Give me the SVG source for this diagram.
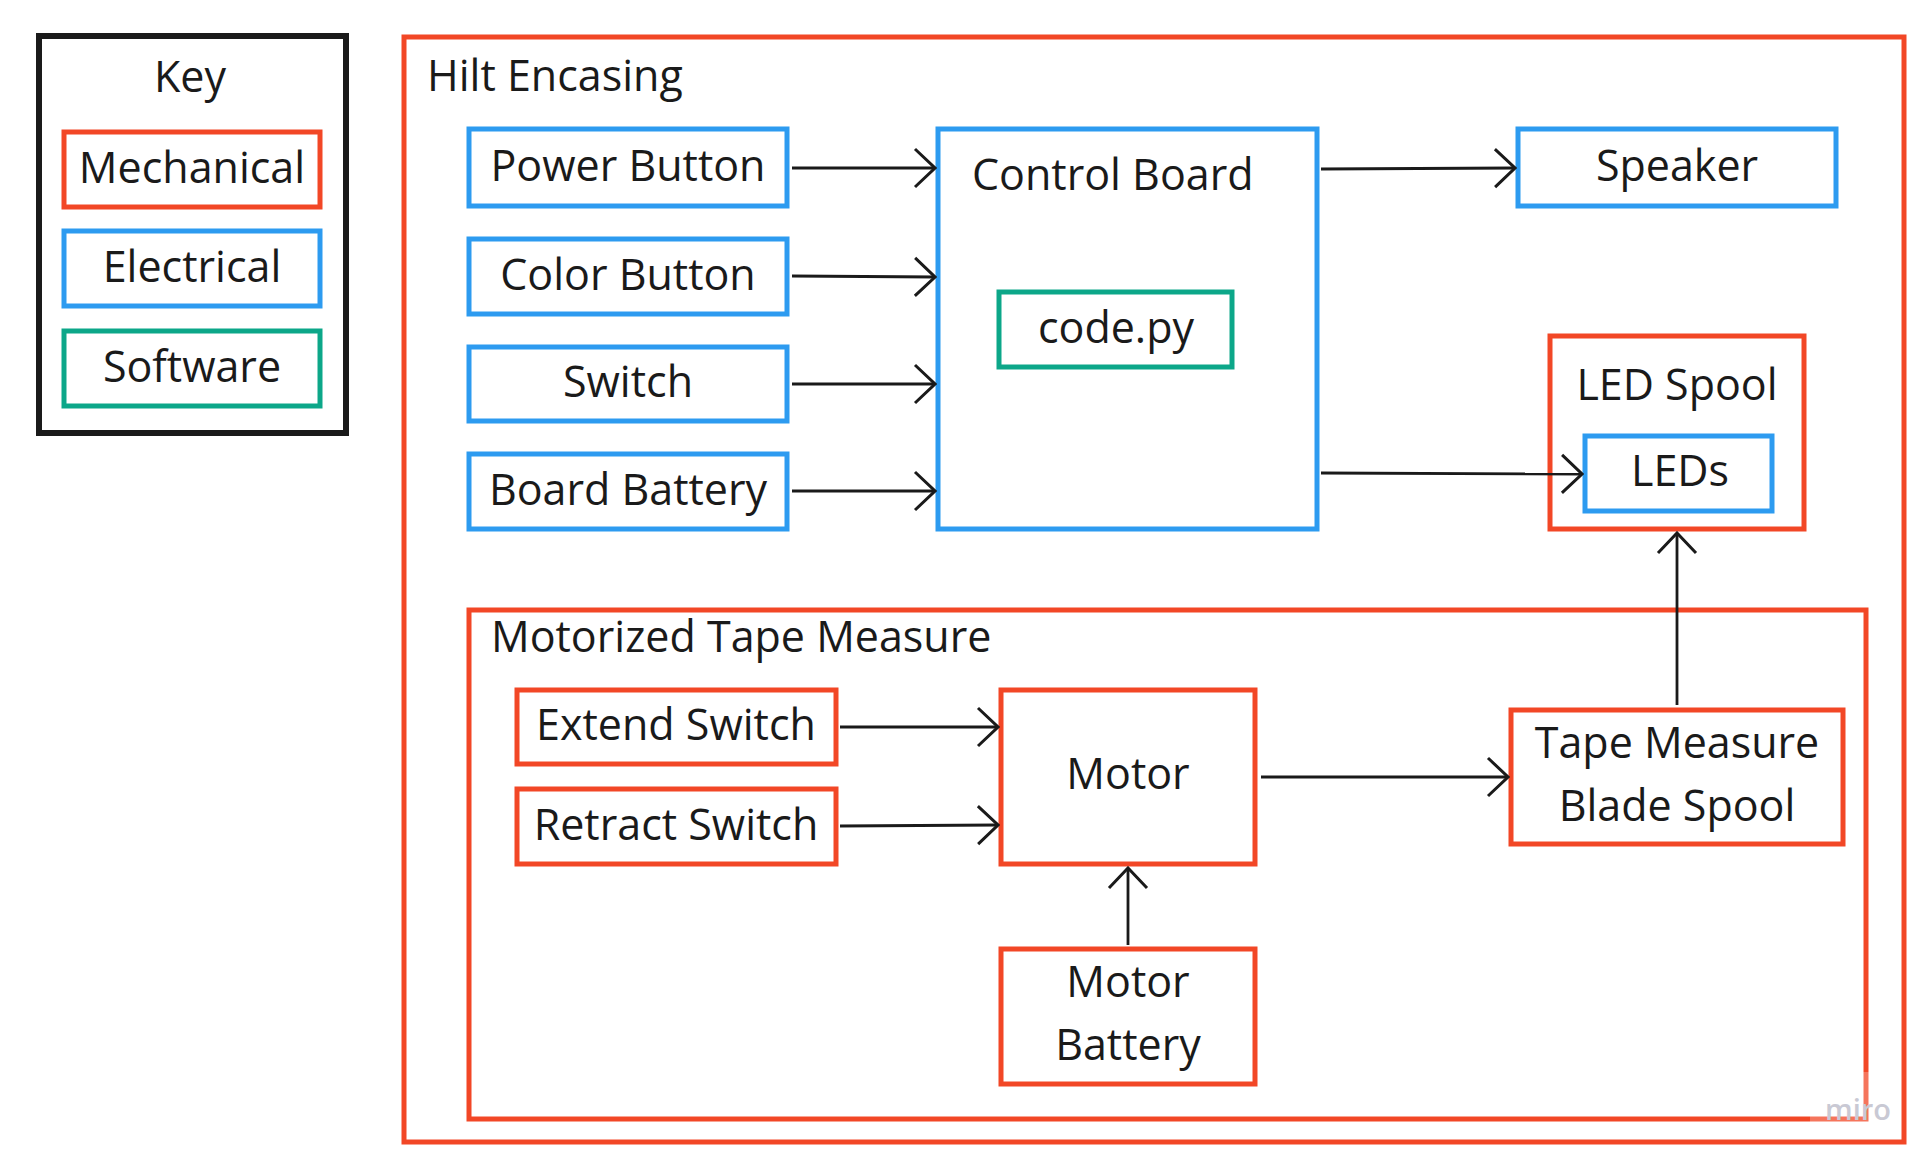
<svg xmlns="http://www.w3.org/2000/svg" width="1930" height="1165" viewBox="0 0 1930 1165">
<style>
.t{font-family:"Open Sans","Noto Sans","Liberation Sans",sans-serif;font-size:43px;fill:#1a1a1a}
.c{text-anchor:middle}
.m{fill:none;stroke:#f24726;stroke-width:5}
.e{fill:none;stroke:#2d9bf0;stroke-width:5}
.s{fill:none;stroke:#0ca789;stroke-width:5}
.k{fill:none;stroke:#1a1a1a;stroke-width:6}
.ln{stroke:#1a1a1a;stroke-width:2.8;fill:none;marker-end:url(#arr)}
</style>
<defs>
<marker id="arr" viewBox="-24 -22 26 44" markerWidth="26" markerHeight="44" refX="0" refY="0" orient="auto" markerUnits="userSpaceOnUse">
<path d="M-20,-19 L0,0 L-20,19" fill="none" stroke="#1a1a1a" stroke-width="3"/>
</marker>
</defs>
<rect width="1930" height="1165" fill="#fff"/>
<g id="key">
<rect class="k" x="39" y="36" width="307" height="397"/>
<text class="t c" x="190" y="92">Key</text>
<g id="key-mechanical"><rect class="m" x="64" y="132" width="256" height="75"/><text class="t c" x="192" y="183">Mechanical</text></g>
<g id="key-electrical"><rect class="e" x="64" y="231" width="256" height="75"/><text class="t c" x="192" y="282">Electrical</text></g>
<g id="key-software"><rect class="s" x="64" y="331" width="256" height="75"/><text class="t c" x="192" y="382">Software</text></g>
</g>
<g id="hilt-encasing">
<rect class="m" x="404" y="37" width="1500" height="1105"/>
<text class="t" x="427" y="91">Hilt Encasing</text>
</g>
<g id="power-button"><rect class="e" x="469" y="129" width="318" height="77"/><text class="t c" x="628" y="181">Power Button</text></g>
<g id="color-button"><rect class="e" x="469" y="239" width="318" height="75"/><text class="t c" x="628" y="290">Color Button</text></g>
<g id="switch"><rect class="e" x="469" y="347" width="318" height="74"/><text class="t c" x="628" y="397">Switch</text></g>
<g id="board-battery"><rect class="e" x="469" y="454" width="318" height="75"/><text class="t c" x="628" y="505">Board Battery</text></g>
<g id="control-board"><rect class="e" x="938" y="129" width="379" height="400"/><text class="t" x="972" y="190">Control Board</text></g>
<g id="code-py"><rect class="s" x="999" y="292" width="233" height="75"/><text class="t c" x="1116" y="343">code.py</text></g>
<g id="speaker"><rect class="e" x="1518" y="129" width="318" height="77"/><text class="t c" x="1677" y="181">Speaker</text></g>
<g id="led-spool"><rect class="m" x="1550" y="336" width="254" height="193"/><text class="t c" x="1677" y="400">LED Spool</text></g>
<g id="leds"><rect class="e" x="1585" y="436" width="187" height="75"/><text class="t c" x="1680" y="486">LEDs</text></g>
<g id="motorized-tape-measure">
<rect class="m" x="469" y="610" width="1397" height="509"/>
<text class="t" x="491" y="652">Motorized Tape Measure</text>
</g>
<g id="extend-switch"><rect class="m" x="517" y="690" width="319" height="74"/><text class="t c" x="676" y="740">Extend Switch</text></g>
<g id="retract-switch"><rect class="m" x="517" y="789" width="319" height="75"/><text class="t c" x="676" y="840">Retract Switch</text></g>
<g id="motor"><rect class="m" x="1001" y="690" width="254" height="174"/><text class="t c" x="1128" y="789">Motor</text></g>
<g id="tape-measure-blade-spool"><rect class="m" x="1511" y="710" width="332" height="134"/><text class="t c" x="1677" y="758">Tape Measure</text><text class="t c" x="1677" y="821">Blade Spool</text></g>
<g id="motor-battery"><rect class="m" x="1001" y="949" width="254" height="135"/><text class="t c" x="1128" y="997">Motor</text><text class="t c" x="1128" y="1060">Battery</text></g>
<g id="connectors">
<line class="ln" x1="792" y1="168" x2="935" y2="168"/>
<line class="ln" x1="792" y1="276" x2="935" y2="277"/>
<line class="ln" x1="792" y1="384" x2="935" y2="384"/>
<line class="ln" x1="792" y1="491" x2="935" y2="491"/>
<line class="ln" x1="1321" y1="169" x2="1515" y2="168"/>
<line class="ln" x1="1321" y1="473" x2="1582" y2="474"/>
<line class="ln" x1="1677" y1="705" x2="1677" y2="533"/>
<line class="ln" x1="840" y1="727" x2="998" y2="727"/>
<line class="ln" x1="840" y1="826" x2="998" y2="825"/>
<line class="ln" x1="1261" y1="777" x2="1508" y2="777"/>
<line class="ln" x1="1128" y1="945" x2="1128" y2="868"/>
</g>
<rect x="1810" y="1072" width="72" height="51" fill="#fff" fill-opacity="0.25"/>
<text x="1825" y="1120" style="font-family:'Open Sans',sans-serif;font-size:29px;font-weight:600;fill:#c9c9d4">miro</text>
</svg>
